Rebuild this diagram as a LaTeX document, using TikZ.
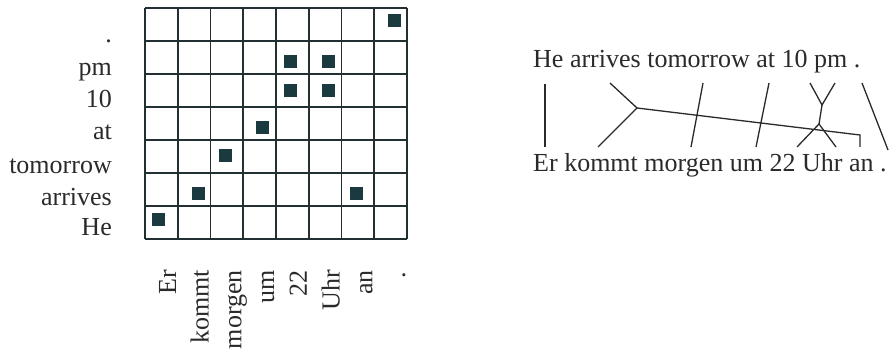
\documentclass[tikz,border=0pt]{standalone}
\usepackage{fontspec}
\setmainfont{Liberation Serif}
\usepackage{tikz}
\usetikzlibrary{positioning,calc}

\definecolor{inkgray}{HTML}{2A2A2A}
\definecolor{gridline}{HTML}{223034}
\definecolor{hitfill}{HTML}{1B3A40}

\begin{document}
\begin{tikzpicture}[
        x=1pt, y=-1pt,
        every node/.style={font=\fontsize{26}{30}\selectfont, text=inkgray, inner sep=0pt},
        rowlabel/.style={anchor=base east},
        collabel/.style={anchor=base east, rotate=90},
        hit/.style={rectangle, fill=hitfill, minimum size=13pt},
        sentence/.style={anchor=base west},
        link/.style={draw=inkgray, line width=1.3pt}
    ]
        \useasboundingbox (0,0) rectangle (890,352);

        % Alignment matrix
        \foreach \i in {0,...,8}
            \draw[gridline, line width=1.6pt] (145+32.75*\i,8) -- (145+32.75*\i,239);
        \foreach \j in {0,...,7}
            \draw[gridline, line width=1.6pt] (145,8+33*\j) -- (407,8+33*\j);

        % Row labels (English)
        \node[rowlabel] (r1) at (112,43) {.};
        \node[rowlabel] (r2) at (112,76) {pm};
        \node[rowlabel] (r3) at (112,108) {10};
        \node[rowlabel] (r4) at (112,140) {at};
        \node[rowlabel] (r5) at (112,174) {tomorrow};
        \node[rowlabel] (r6) at (112,206) {arrives};
        \node[rowlabel] (r7) at (112,236) {He};

        % Column labels (German)
        \node[collabel] (c1) at (176,270) {Er};
        \node[collabel] (c2) at (208.5,270) {kommt};
        \node[collabel] (c3) at (241.25,270) {morgen};
        \node[collabel] (c4) at (274,270) {um};
        \node[collabel] (c5) at (306.75,270) {22};
        \node[collabel] (c6) at (339.5,270) {Uhr};
        \node[collabel] (c7) at (372.25,270) {an};
        \node[collabel] (c8) at (405,272) {.};

        % Alignment points
        \node[hit] (he-er) at (158,220) {};
        \node[hit] (arrives-kommt) at (198,194) {};
        \node[hit] (arrives-an) at (356,194) {};
        \node[hit] (tomorrow-morgen) at (225,156) {};
        \node[hit] (at-um) at (262,128) {};
        \node[hit] (ten-22) at (290,91) {};
        \node[hit] (ten-uhr) at (328,91) {};
        \node[hit] (pm-22) at (290,62) {};
        \node[hit] (pm-uhr) at (328,62) {};
        \node[hit] (dot-dot) at (394,21) {};

        % Sentence pair
        \node[sentence] (english) at (533,68) {He arrives tomorrow at 10 pm .};
        \node[sentence] (german) at (533,172) {Er kommt morgen um 22 Uhr an .};

        % Link ends and junctions
        \coordinate (heT) at (545,84);
        \coordinate (erB) at (545,147);
        \coordinate (arrivesT) at (610,83);
        \coordinate (arrivesJ) at (637,108);
        \coordinate (kommtB) at (598,147);
        \coordinate (anC) at (860,135);
        \coordinate (anB) at (860,147);
        \coordinate (tomorrowT) at (703,83);
        \coordinate (morgenB) at (691,147);
        \coordinate (atT) at (769,83);
        \coordinate (umB) at (756,147);
        \coordinate (tenT) at (810,83);
        \coordinate (pmT) at (835,83);
        \coordinate (tenpmJ) at (822,105);
        \coordinate (zweiuhrJ) at (819,124);
        \coordinate (zweiB) at (797,147);
        \coordinate (uhrB) at (836,147);
        \coordinate (dotT) at (862,83);
        \coordinate (dotB) at (888,150);

        % Connections
        \draw[link] (heT) -- (erB);
        \draw[link] (arrivesT) -- (arrivesJ) -- (kommtB);
        \draw[link] (arrivesJ) -- (anC) -- (anB);
        \draw[link] (tomorrowT) -- (morgenB);
        \draw[link] (atT) -- (umB);
        \draw[link] (tenT) -- (tenpmJ) -- (pmT);
        \draw[link] (tenpmJ) -- (zweiuhrJ);
        \draw[link] (zweiB) -- (zweiuhrJ) -- (uhrB);
        \draw[link] (dotT) -- (dotB);

    \end{tikzpicture}
\end{document}
